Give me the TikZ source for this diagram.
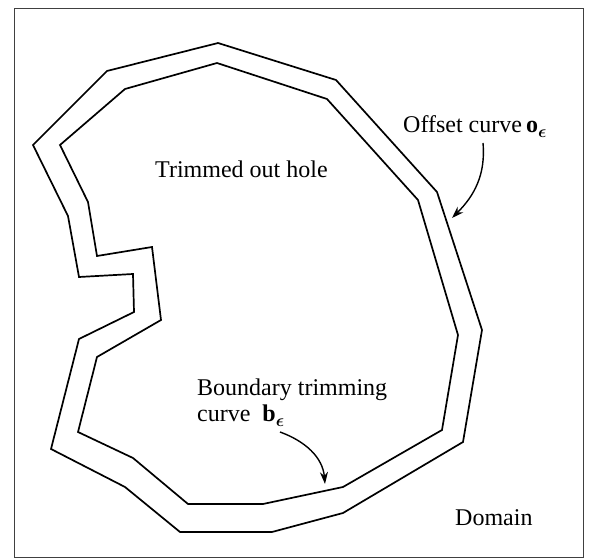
\documentclass[tikz,border=0pt]{standalone}
\usepackage{amsmath}
\usepackage{fontspec}
\setmainfont{Liberation Serif}
\usetikzlibrary{arrows.meta}
\newcommand{\epsb}{\raisebox{-5pt}{\fontsize{19}{19}\selectfont$\boldsymbol{\epsilon}$}}
\begin{document}
\begin{tikzpicture}[x=1pt,y=-1pt,
  curveline/.style={line width=1.7pt, line join=miter},
  lbl/.style={inner sep=0pt, font=\fontsize{24}{26}\selectfont},
  pointer/.style={line width=1.4pt, -{Stealth[length=12pt,width=8pt]}}]
\useasboundingbox (0,0) rectangle (590,559);
\draw[line width=0.8pt, black!75] (14,8) rectangle (583,557);
% outer offset curve
\draw[curveline] (218,43) -- (107,71) -- (33,145) -- (68,216) -- (79,277) -- (133,274) -- (134,312) -- (79,339) -- (51,449) -- (125,487) -- (180,532) -- (272,532) -- (343,513) -- (463,442) -- (482,330) -- (437,192) -- (336,80) -- cycle;
% inner boundary curve
\draw[curveline] (217,63) -- (125,89) -- (60,145) -- (88,202) -- (97,256) -- (152,247) -- (161,320) -- (97,357) -- (78,432) -- (133,458) -- (188,504) -- (263,504) -- (343,487) -- (442,430) -- (458,335) -- (418,200) -- (327,99) -- cycle;
\coordinate (oend) at (452,218);
\coordinate (bend) at (325,484);
\node[lbl, anchor=base west] (hole) at (155,178) {Trimmed out hole};
\node[lbl, anchor=base west] (offset) at (403,133) {Offset curve\,\textbf{o}\epsb};
\node[lbl, anchor=north west, align=left] (boundary) at (197,379) {Boundary trimming\\curve\ \ \textbf{b}\epsb};
\node[lbl, anchor=base west] (domain) at (455,525) {Domain};
\coordinate (ostart) at (483,143);
\coordinate (bstart) at (280,432);
\draw[pointer] (ostart) to[out=-85, in=45] (oend);
\draw[pointer] (bstart) to[out=-20, in=95] (bend);
\end{tikzpicture}
\end{document}
